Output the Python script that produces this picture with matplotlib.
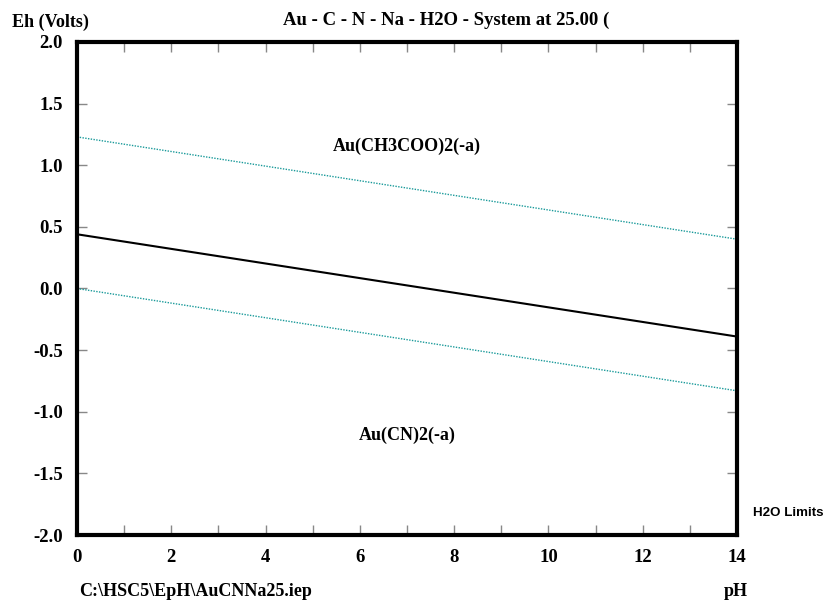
import numpy as np
import matplotlib.pyplot as plt
from matplotlib.ticker import MultipleLocator

# data
ph = [0, 14]
eh_au = [0.44, -0.39]          # Au(CH3COO)2(-a) / Au(CN)2(-a) boundary
eh_h2o_upper = [1.23, 0.40]
eh_h2o_lower = [0.0, -0.83]
region_labels = ['Au(CH3COO)2(-a)', 'Au(CN)2(-a)']
region_pos = [(7.0, 1.15), (7.0, -1.19)]

serif = 'Liberation Serif'
teal = '#1a9a9a'

W, H = 828, 603
fig = plt.figure(figsize=(W / 100, H / 100), dpi=100)
ax = fig.add_axes([77 / W, 1 - 535 / H, 660 / W, 493 / H])

ax.plot(ph, eh_h2o_upper, color=teal, lw=1.0, ls=(0, (1, 1)))
ax.plot(ph, eh_h2o_lower, color=teal, lw=1.0, ls=(0, (1, 1)))
ax.plot(ph, eh_au, color='black', lw=1.5)

for txt, (x, y) in zip(region_labels, region_pos):
    ax.text(x, y, txt, ha='center', va='center', family=serif,
            fontweight='bold', fontsize=13)

ax.set_xlim(0, 14)
ax.set_ylim(-2, 2)
ax.xaxis.set_major_locator(MultipleLocator(2))
ax.xaxis.set_minor_locator(MultipleLocator(1))
ax.yaxis.set_major_locator(MultipleLocator(0.5))
ax.yaxis.set_major_formatter(plt.FuncFormatter(lambda v, p: '%.1f' % v))

ax.tick_params(which='both', direction='in', top=True, right=True,
               color='#888888', width=1, length=7)
ax.tick_params(which='major', labelsize=13.5)
ax.tick_params(axis='y', pad=10)
ax.tick_params(axis='x', pad=10)
for lab in ax.get_xticklabels() + ax.get_yticklabels():
    lab.set_family(serif)
    lab.set_fontweight('bold')
for s in ax.spines.values():
    s.set_linewidth(3)

fig.text(12 / W, 1 - 22 / H, 'Eh (Volts)', family=serif, fontweight='bold',
         fontsize=13, va='center', ha='left')
fig.text(283 / W, 1 - 20 / H, 'Au - C - N - Na - H2O - System at 25.00 (',
         family=serif, fontweight='bold', fontsize=13.5, va='center', ha='left')
fig.text(79 / W, 1 - 592 / H, 'C:\\HSC5\\EpH\\AuCNNa25.iep', family=serif,
         fontweight='bold', fontsize=13, va='center', ha='left')
fig.text(736 / W, 1 - 592 / H, 'pH', family=serif, fontweight='bold',
         fontsize=13, va='center', ha='center')
fig.text(753 / W, 1 - 513 / H, 'H2O Limits', family='Liberation Sans',
         fontweight='bold', fontsize=9.6, va='center', ha='left')

fig.savefig('out.png', dpi=100)
